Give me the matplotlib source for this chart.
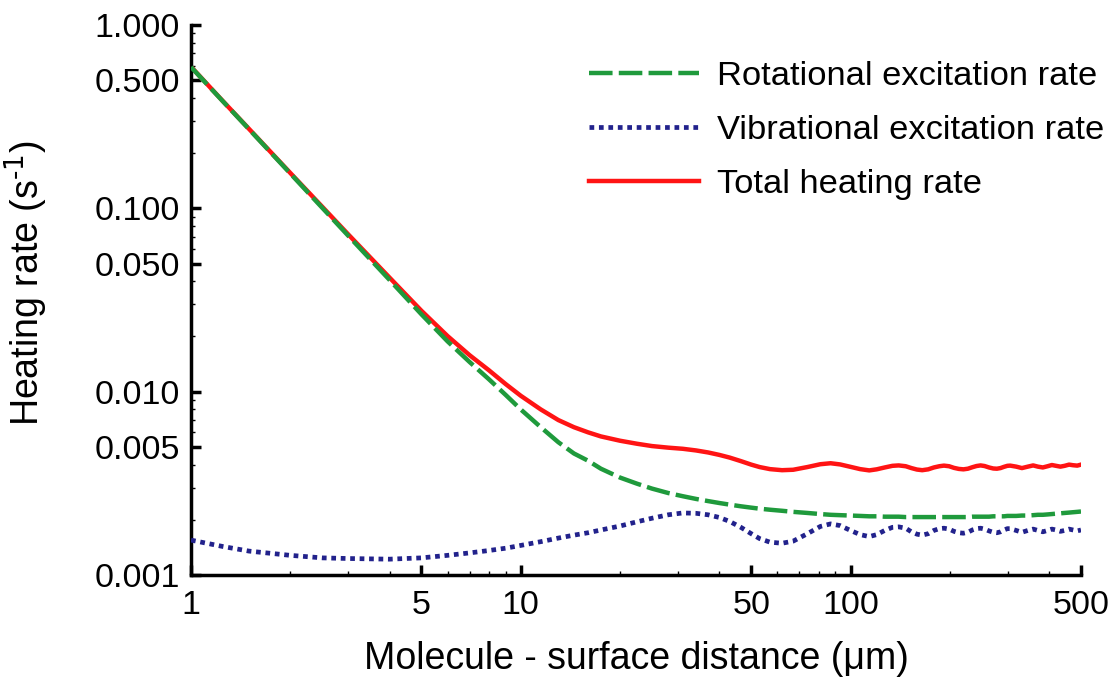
import matplotlib.pyplot as plt
from matplotlib.ticker import FixedLocator, NullFormatter
from matplotlib.lines import Line2D

# distance from the surface (um)
distance = [1, 1.25, 1.5, 2, 2.5, 3, 4, 5, 6, 7, 8, 9, 10, 11.5, 13, 14.5, 16, 17.5,
            20, 22.5, 25, 28, 31, 34, 37, 40, 43, 46.5, 50, 53, 57, 62, 67, 74, 81,
            87, 93, 100, 107, 114, 120, 127, 134, 140, 147, 153, 159, 165, 172, 179,
            186, 192, 199, 206, 213, 220, 227, 234, 241, 248, 255, 263, 271, 278,
            285, 292, 299, 305, 318, 331, 345, 358, 370, 383, 396, 408, 420, 433,
            446, 460, 473, 487, 500]

# rotational excitation rate (s^-1)
rotational = [0.59, 0.383, 0.270, 0.155, 0.1007, 0.0708, 0.0407, 0.0264, 0.0188,
              0.0145, 0.0117, 0.0096, 0.0080, 0.0064, 0.0053, 0.0046, 0.0042, 0.0038,
              0.0034, 0.00315, 0.00296, 0.0028, 0.00269, 0.0026, 0.00253, 0.00247,
              0.00242, 0.00237, 0.00233, 0.0023, 0.00227, 0.00224, 0.00221, 0.00218,
              0.00215, 0.00213, 0.00212, 0.00211, 0.0021, 0.00209, 0.00209, 0.00208,
              0.00208, 0.00208, 0.00207, 0.00207, 0.00207, 0.00207, 0.00207, 0.00207,
              0.00207, 0.00207, 0.00207, 0.00207, 0.00207, 0.00207, 0.00207, 0.00208,
              0.00208, 0.00208, 0.00208, 0.00208, 0.00209, 0.00209, 0.00209, 0.00209,
              0.0021, 0.0021, 0.0021, 0.00211, 0.00211, 0.00212, 0.00213, 0.00213,
              0.00214, 0.00215, 0.00216, 0.00217, 0.00218, 0.00219, 0.0022, 0.00221,
              0.00222]

# vibrational excitation rate (s^-1)
vibrational = [0.00155, 0.00143, 0.00135, 0.00128, 0.00124, 0.00123, 0.00122, 0.00124,
               0.00128, 0.00132, 0.00136, 0.0014, 0.00145, 0.00152, 0.00159, 0.00165,
               0.0017, 0.00176, 0.00185, 0.00195, 0.00204, 0.00213, 0.00218, 0.00217,
               0.00213, 0.00206, 0.00196, 0.00182, 0.00168, 0.00158, 0.00151, 0.00149,
               0.00153, 0.00168, 0.00184, 0.0019, 0.00186, 0.00175, 0.00166, 0.00162,
               0.00166, 0.00175, 0.00182, 0.00183, 0.0018, 0.00172, 0.00167, 0.00165,
               0.00168, 0.00175, 0.00179, 0.0018, 0.00178, 0.00173, 0.0017, 0.00169,
               0.00171, 0.00176, 0.00179, 0.0018, 0.00178, 0.00174, 0.00171, 0.0017,
               0.00172, 0.00176, 0.00179, 0.00179, 0.00175, 0.00171, 0.00175, 0.00178,
               0.00175, 0.00172, 0.00175, 0.00178, 0.00176, 0.00173, 0.00175, 0.00178,
               0.00176, 0.00174, 0.00176]

# total heating rate (s^-1)
total = [0.592, 0.384, 0.271, 0.156, 0.102, 0.072, 0.0419, 0.0276, 0.0201, 0.0158,
         0.0131, 0.0110, 0.0095, 0.0080, 0.0070, 0.0064, 0.0060, 0.0057, 0.0054,
         0.0052, 0.00505, 0.00495, 0.00488, 0.00478, 0.00466, 0.00452, 0.00437,
         0.00418, 0.004, 0.00388, 0.00378, 0.00373, 0.00375, 0.00388, 0.00402,
         0.00407, 0.00401, 0.00389, 0.00378, 0.00372, 0.00377, 0.00386, 0.00394,
         0.00396, 0.00392, 0.00383, 0.00376, 0.00373, 0.00377, 0.00386, 0.00392,
         0.00395, 0.00392, 0.00384, 0.00379, 0.00377, 0.0038, 0.00387, 0.00393,
         0.00396, 0.00393, 0.00386, 0.00381, 0.0038, 0.00383, 0.00389, 0.00394,
         0.00395, 0.0039, 0.00383, 0.0039, 0.00396, 0.0039, 0.00386, 0.00392,
         0.00398, 0.00394, 0.0039, 0.00394, 0.004, 0.00397, 0.00395, 0.004]

xticks = [1, 5, 10, 50, 100, 500]
xtick_labels = ['1', '5', '10', '50', '100', '500']
yticks = [0.001, 0.005, 0.01, 0.05, 0.1, 0.5, 1]
ytick_labels = ['0.001', '0.005', '0.010', '0.050', '0.100', '0.500', '1.000']

plt.rcParams['font.family'] = ['Liberation Sans', 'DejaVu Sans']

fig = plt.figure(figsize=(11.17, 6.86), dpi=100)
ax = fig.add_axes([191 / 1117, 1 - 575 / 686, 890 / 1117, 550 / 686])

green = '#1f9a3c'
blue = '#22228c'
red = '#ff1414'
green_dash = (5.3, 1.4)
blue_dot = (1, 1)

ax.plot(distance, total, color=red, lw=3.2, zorder=2)
ax.plot(distance, rotational, color=green, lw=3.2, dashes=green_dash, zorder=3)
ax.plot(distance, vibrational, color=blue, lw=3.4, dashes=blue_dot, zorder=3)

ax.set_xscale('log')
ax.set_yscale('log')
ax.set_xlim(1, 500)
ax.set_ylim(0.001, 1)

ax.set_xticks(xticks)
ax.set_xticklabels(xtick_labels)
ax.set_yticks(yticks)
ax.set_yticklabels(ytick_labels)
ax.xaxis.set_minor_locator(FixedLocator([2, 3, 4, 6, 7, 8, 9, 20, 30, 40, 60, 70, 80, 90,
                                         200, 300, 400]))
ax.yaxis.set_minor_locator(FixedLocator([0.002, 0.003, 0.004, 0.006, 0.007, 0.008, 0.009,
                                         0.02, 0.03, 0.04, 0.06, 0.07, 0.08, 0.09,
                                         0.2, 0.3, 0.4, 0.6, 0.7, 0.8, 0.9]))
ax.xaxis.set_minor_formatter(NullFormatter())
ax.yaxis.set_minor_formatter(NullFormatter())

for side in ['top', 'right']:
    ax.spines[side].set_visible(False)
for side in ['left', 'bottom']:
    ax.spines[side].set_linewidth(2.5)

ax.tick_params(which='major', direction='in', length=7, width=2.5, labelsize=24.5)
ax.tick_params(axis='y', which='major', pad=8)
ax.tick_params(axis='x', which='major', pad=11)
ax.tick_params(which='minor', direction='in', length=3, width=1)

ax.set_xlabel('Molecule - surface distance (\u03bcm)', fontsize=27, labelpad=14)
ax.set_ylabel('Heating rate (s$^{\\text{-1}}$)', fontsize=27)
ax.yaxis.set_label_coords(-0.158, 0.53)

handles = [Line2D([], [], color=green, lw=3.2, dashes=green_dash),
           Line2D([], [], color=blue, lw=3.4, dashes=blue_dot),
           Line2D([], [], color=red, lw=3.2)]
labels = ['Rotational excitation rate', 'Vibrational excitation rate', 'Total heating rate']
ax.legend(handles, labels, loc='upper right', bbox_to_anchor=(1104 / 1117, 1 - 61 / 686),
          bbox_transform=fig.transFigure, frameon=False, fontsize=24.8, handlelength=3.2,
          handletextpad=0.52, labelspacing=0.66, borderpad=0, borderaxespad=0)

fig.savefig('out.png', dpi=100)
